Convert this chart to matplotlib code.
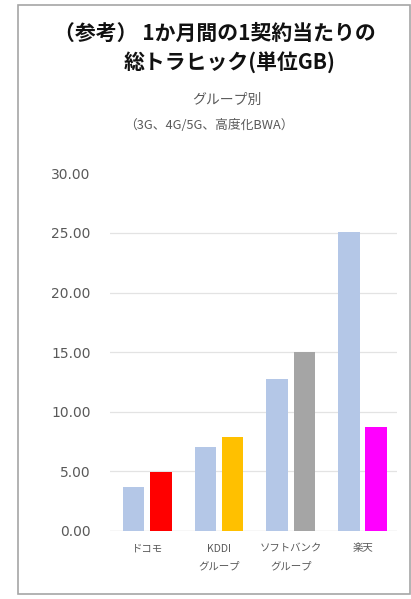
import numpy as np
import matplotlib
matplotlib.use('Agg')
import matplotlib.pyplot as plt
from matplotlib.patches import Rectangle

plt.rcParams['font.family'] = ['Noto Sans CJK JP', 'DejaVu Sans']

# data
groups = ['ドコモ', 'KDDI\nグループ', 'ソフトバンク\nグループ', '楽天']
light_vals = [3.67, 7.07, 12.75, 25.05]
brand_vals = [4.92, 7.86, 15.00, 8.75]
brand_colors = ['#FF0000', '#FFC000', '#A5A5A5', '#FF00FF']
light_color = '#B4C7E7'
yticks = [0, 5, 10, 15, 20, 25, 30]

fig = plt.figure(figsize=(4.11, 5.99), dpi=100)
W, H = 411, 599

# outer frame
fig.patches.append(Rectangle((18 / W, 1 - 594 / H), (410 - 18) / W, (594 - 5) / H,
                             transform=fig.transFigure, fill=False,
                             edgecolor='#A6A6A6', linewidth=1.2))

# titles
fig.text(215 / W, 1 - 33 / H, '（参考） 1か月間の1契約当たりの', ha='center', va='center',
         fontsize=15, color='#111111', fontweight='bold')
fig.text(230 / W, 1 - 62 / H, '総トラヒック(単位GB)', ha='center', va='center',
         fontsize=15, color='#111111', fontweight='bold')
fig.text(227 / W, 1 - 100 / H, 'グループ別', ha='center', va='center',
         fontsize=10, color='#595959')
fig.text(209 / W, 1 - 125 / H, '（3G、4G/5G、高度化BWA）', ha='center', va='center',
         fontsize=9.2, color='#595959')

ax = fig.add_axes([110 / W, 1 - 531 / H, (397 - 110) / W, (531 - 173.4) / H])
x = np.arange(len(groups))
w = 0.3
off = 0.19
ax.bar(x - off, light_vals, w, color=light_color, zorder=3)
ax.bar(x + off, brand_vals, w, color=brand_colors, zorder=3)

ax.set_xlim(-0.52, 3.48)
ax.set_ylim(0, 30)
ax.set_yticks(yticks)
ax.set_yticklabels([f'{v:.2f}' for v in yticks], fontsize=10, color='#595959',
                   family=['DejaVu Sans'])
for v in yticks[1:-1]:
    ax.axhline(v, color='#E3E3E3', linewidth=0.9, zorder=1)
ax.axhline(0, color='#D9D9D9', linewidth=1.0, zorder=2)

ax.set_xticks(x)
ax.set_xticklabels(groups, fontsize=7.5, color='#595959', linespacing=2.0)
ax.tick_params(axis='both', length=0)
ax.tick_params(axis='y', pad=14)
ax.tick_params(axis='x', pad=9)
for s in ax.spines.values():
    s.set_visible(False)

fig.savefig('out.png', dpi=100)
